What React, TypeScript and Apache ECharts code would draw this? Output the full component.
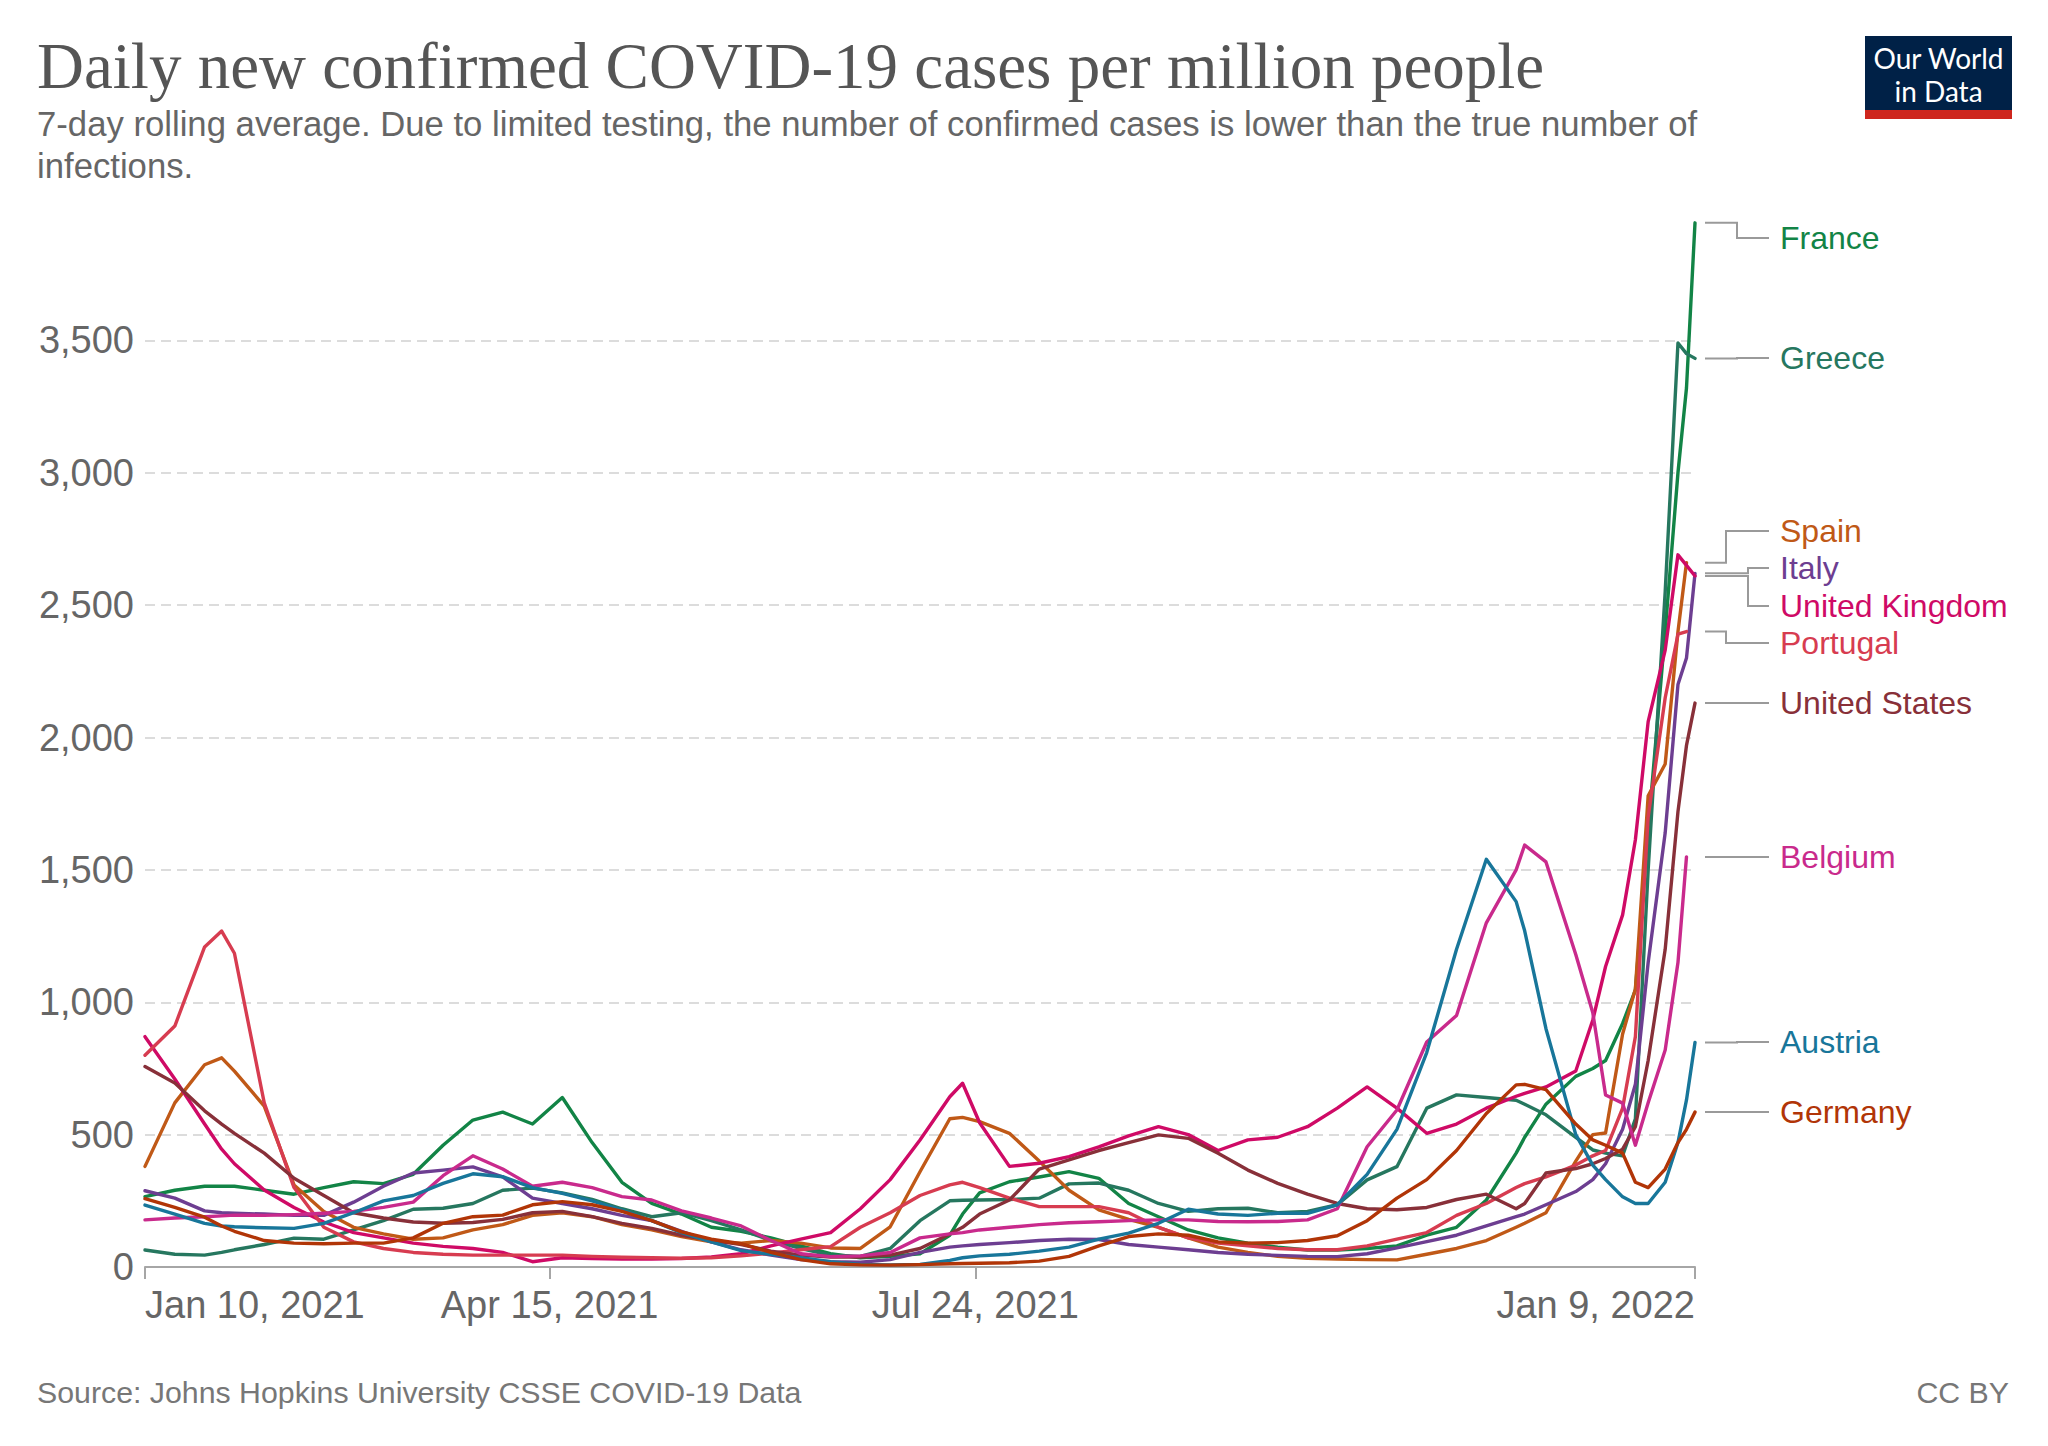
import React, { useEffect, useRef } from "react";
import * as echarts from "echarts";

// Day offsets from Jan 10, 2021
const days = [
  0, 7, 14, 18, 21, 28, 35, 42, 49, 56,
  63, 70, 77, 84, 91, 98, 105, 112, 119, 126,
  133, 140, 147, 154, 161, 168, 175, 182, 189, 192,
  196, 203, 210, 217, 224, 231, 238, 245, 252, 259,
  266, 273, 280, 287, 294, 301, 308, 315, 322, 324,
  329, 336, 340, 343, 347, 350, 353, 357, 360, 362,
  364,
];

const france = [
  266, 290, 305, 305, 305, 290, 275, 300, 322, 315,
  350, 460, 555, 585, 540, 640, 470, 320, 240, 200,
  150, 135, 110, 80, 50, 35, 40, 50, 120, 200,
  280, 322, 340, 360, 335, 240, 190, 140, 110, 90,
  75, 64, 64, 70, 80, 120, 150, 253, 430, 490,
  615, 720, 750, 780, 920, 1046, 1650, 2400, 3000, 3320,
  3944,
];
const greece = [
  64, 48, 45, 55, 65, 85, 109, 105, 140, 175,
  218, 222, 240, 290, 298, 280, 255, 220, 190, 205,
  175, 140, 100, 70, 45, 40, 70, 175, 250, 252,
  253, 255, 260, 314, 317, 290, 240, 210, 220, 222,
  205, 210, 235, 329, 379, 600, 650, 640, 630, 615,
  575, 490, 442, 430, 420, 560, 1500, 2550, 3490, 3450,
  3432,
];
const spain = [
  380, 620, 764, 790, 740, 608, 310, 210, 150, 125,
  105, 110, 140, 160, 195, 205, 190, 160, 140, 115,
  95, 90, 100, 90, 72, 70, 152, 360, 560, 565,
  549, 505, 400, 290, 216, 180, 150, 110, 75, 55,
  40, 33, 30, 28, 27, 48, 70, 100, 150, 165,
  205, 400, 500, 506, 880, 1050, 1780, 1900, 2400, 2660,
  null,
];
const italy = [
  288, 260, 212, 205, 203, 200, 195, 195, 245, 305,
  355, 366, 378, 340, 260, 240, 220, 195, 175, 135,
  95, 65, 45, 28, 20, 18, 28, 55, 75, 80,
  85, 92, 100, 105, 104, 85, 75, 65, 55, 48,
  44, 40, 39, 50, 72, 96, 120, 155, 190, 200,
  235, 285, 330, 390, 520, 690, 1150, 1640, 2200, 2300,
  2620,
];
const unitedKingdom = [
  870, 710, 540, 445, 390, 291, 225, 170, 130, 110,
  90, 78, 70, 55, 20, 35, 32, 30, 30, 32,
  38, 50, 80, 105, 130, 220, 330, 480, 643, 694,
  545, 380, 392, 417, 454, 495, 530, 500, 440, 480,
  490, 530, 600, 680, 600, 505, 540, 600, 645, 656,
  680, 740, 933, 1135, 1330, 1614, 2060, 2330, 2690, 2650,
  2610,
];
const portugal = [
  800, 910, 1209, 1269, 1185, 620, 300, 150, 95, 70,
  55, 48, 45, 45, 45, 45, 40, 37, 35, 33,
  35, 42, 52, 65, 77, 150, 205, 270, 310, 320,
  300, 260, 228, 228, 228, 205, 150, 110, 90, 80,
  70, 65, 65, 80, 105, 130, 195, 240, 300, 315,
  340, 385, 420, 440, 600, 870, 1700, 2150, 2390, 2400,
  null,
];
const unitedStates = [
  757, 695, 590, 540, 505, 430, 335, 270, 205, 185,
  170, 165, 168, 180, 205, 210, 190, 165, 146, 120,
  102, 85, 60, 45, 38, 38, 45, 70, 125, 150,
  200, 253, 370, 405, 440, 470, 499, 486, 430, 366,
  316, 275, 240, 220, 216, 225, 255, 275, 220, 240,
  355, 372, 390, 410, 445, 530, 780, 1200, 1720, 1970,
  2130,
];
const belgium = [
  178, 185, 190, 193, 196, 195, 198, 203, 210, 225,
  245, 345, 420, 370, 305, 320, 300, 266, 253, 212,
  185, 155, 100, 50, 39, 42, 55, 110, 125, 130,
  140, 150, 160, 167, 171, 175, 178, 178, 172, 171,
  172, 178, 220, 454, 593, 850, 950, 1300, 1500, 1594,
  1530, 1180, 960, 650, 619, 460, 620, 820, 1150, 1549,
  null,
];
const austria = [
  234, 200, 165, 155, 152, 148, 146, 165, 205, 250,
  270, 316, 352, 341, 300, 278, 250, 215, 175, 130,
  95, 62, 48, 35, 20, 10, 8, 10, 25, 35,
  42, 48, 60, 75, 105, 128, 165, 218, 200, 195,
  203, 203, 235, 350, 520, 810, 1200, 1540, 1380, 1270,
  900, 500, 385, 330, 265, 240, 240, 320, 470, 631,
  848,
];
const germany = [
  258, 225, 188, 155, 135, 100, 90, 88, 90, 90,
  110, 165, 190, 196, 235, 247, 235, 210, 175, 133,
  105, 88, 55, 28, 12, 8, 7, 9, 12, 13,
  14, 16, 22, 40, 80, 115, 125, 120, 95, 90,
  92, 100, 118, 175, 260, 330, 440, 580, 688, 690,
  670, 540, 480, 460, 430, 320, 300, 370, 470, 520,
  585,
];

const xTickDays = [0, 95, 195, 364];
const xTickLabels = ["Jan 10, 2021", "Apr 15, 2021", "Jul 24, 2021", "Jan 9, 2022"];
const yTickValues = [0, 500, 1000, 1500, 2000, 2500, 3000, 3500];

const SANS = '"Liberation Sans", Arial, sans-serif';
const SERIF = '"Liberation Serif", "Times New Roman", serif';

const seriesDefs = [
  { name: "France", color: "#128446", data: france, labelY: 238, elbowX: 1737 },
  { name: "Greece", color: "#26775F", data: greece, labelY: 358, elbowX: 1737 },
  { name: "Spain", color: "#C05917", data: spain, labelY: 531, elbowX: 1726 },
  { name: "Italy", color: "#6D3E91", data: italy, labelY: 568, elbowX: 1748 },
  { name: "United Kingdom", color: "#CF0A66", data: unitedKingdom, labelY: 606, elbowX: 1748 },
  { name: "Portugal", color: "#D73C50", data: portugal, labelY: 643, elbowX: 1726 },
  { name: "United States", color: "#883039", data: unitedStates, labelY: 703, elbowX: 1737 },
  { name: "Belgium", color: "#C92A8C", data: belgium, labelY: 857, elbowX: 1737 },
  { name: "Austria", color: "#18769A", data: austria, labelY: 1042, elbowX: 1737 },
  { name: "Germany", color: "#B13507", data: germany, labelY: 1112, elbowX: 1737 },
];

function txt(text: string, x: number, y: number, size: number, fill: string, family: string, align = "left") {
  return {
    type: "text",
    x,
    y,
    silent: true,
    style: {
      text,
      fill,
      font: `${size}px ${family}`,
      align,
      verticalAlign: "middle",
      textAlign: align,
      textVerticalAlign: "middle",
    },
  };
}

export default function App() {
  const ref = useRef<HTMLDivElement>(null);

  useEffect(() => {
    if (!ref.current) return;
    const chart = echarts.init(ref.current, null, { renderer: "svg" });
    const option: any = {
      animation: false,
      backgroundColor: "#ffffff",
      grid: { left: 145, right: 353, top: 208, bottom: 179, containLabel: false },
      xAxis: {
        type: "value",
        min: 0,
        max: 364,
        axisLine: { show: true, lineStyle: { color: "#a6a6a6", width: 2 } },
        axisTick: {
          show: true,
          customValues: xTickDays,
          length: 12,
          lineStyle: { color: "#a6a6a6", width: 2 },
        },
        axisLabel: {
          customValues: xTickDays,
          formatter: (v: number) => {
            const i = xTickDays.indexOf(v);
            return i >= 0 ? xTickLabels[i] : "";
          },
          fontSize: 38,
          fontFamily: SANS,
          color: "#666",
          margin: 19,
          alignMinLabel: "left",
          alignMaxLabel: "right",
        },
        splitLine: { show: false },
      },
      yAxis: {
        type: "value",
        min: 0,
        max: 4000,
        interval: 500,
        axisLine: { show: false },
        axisTick: { show: false, customValues: yTickValues },
        axisLabel: {
          customValues: yTickValues,
          formatter: (v: number) => v.toLocaleString("en-US"),
          fontSize: 38,
          fontFamily: SANS,
          color: "#666",
          margin: 11,
        },
        splitLine: {
          show: true,
          lineStyle: { color: "#dcdcdc", width: 2, type: [10, 6] },
        },
      },
      series: seriesDefs.map((s, k) => ({
        name: s.name,
        type: "line",
        data: days.map((d, i) => [d, s.data[i]]),
        showSymbol: false,
        symbol: "none",
        silent: true,
        connectNulls: false,
        z: 2 + k,
        lineStyle: { color: s.color, width: 3.4, join: "round", cap: "round" },
        itemStyle: { color: s.color },
      })),
    };
    chart.setOption(option);

    const endX = chart.convertToPixel({ xAxisIndex: 0 }, 364) as number;
    const startX = endX + 10;
    const leaders: any[] = [];
    seriesDefs.forEach((s) => {
      let li = s.data.length - 1;
      while (li >= 0 && (s.data[li] === null || s.data[li] === undefined)) li--;
      const py = chart.convertToPixel({ yAxisIndex: 0 }, s.data[li] as number) as number;
      leaders.push({
        type: "polyline",
        silent: true,
        shape: {
          points: [
            [startX, py],
            [s.elbowX, py],
            [s.elbowX, s.labelY],
            [1769, s.labelY],
          ],
        },
        style: { stroke: "#9a9a9a", lineWidth: 2, fill: null },
      });
      leaders.push(txt(s.name, 1780, s.labelY, 32, s.color, SANS));
    });

    const staticGraphics: any[] = [
      txt("Daily new confirmed COVID-19 cases per million people", 37, 66, 65, "#555", SERIF),
      txt(
        "7-day rolling average. Due to limited testing, the number of confirmed cases is lower than the true number of",
        37,
        124,
        34.7,
        "#666",
        SANS
      ),
      txt("infections.", 37, 166, 34.7, "#666", SANS),
      txt("Source: Johns Hopkins University CSSE COVID-19 Data", 37, 1392, 30.3, "#777", SANS),
      txt("CC BY", 2009, 1392, 30.3, "#777", SANS, "right"),
      {
        type: "rect",
        silent: true,
        shape: { x: 1865, y: 36, width: 147, height: 74 },
        style: { fill: "#002147" },
      },
      {
        type: "rect",
        silent: true,
        shape: { x: 1865, y: 110, width: 147, height: 9 },
        style: { fill: "#CE261E" },
      },
      txt("Our World", 1938.5, 58, 28, "#ffffff", 'Lato, "Liberation Sans", sans-serif', "center"),
      txt("in Data", 1938.5, 91, 28, "#ffffff", 'Lato, "Liberation Sans", sans-serif', "center"),
    ];

    chart.setOption({ graphic: [...staticGraphics, ...leaders] });

    return () => {
      chart.dispose();
    };
  }, []);

  return (
    <div
      ref={ref}
      style={{ position: "absolute", left: 0, top: 0, width: 2048, height: 1446, background: "#fff" }}
    />
  );
}
